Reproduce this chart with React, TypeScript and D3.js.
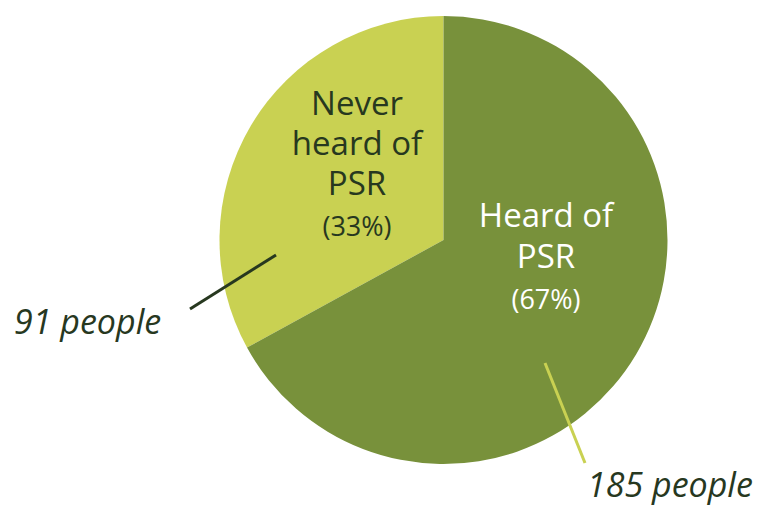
import React from "react";
import * as d3 from "d3";

const categories = ["Never heard of PSR", "Heard of PSR"];
const counts = [91, 185];
const percents = ["(33%)", "(67%)"];
const labelLines = [["Never", "heard of", "PSR"], ["Heard of", "PSR"]];
const peopleLabels = ["91 people", "185 people"];
const colors = ["#c9d152", "#78913b"];

export default function App() {
  const W = 767, H = 506;
  const cx = 443.5, cy = 240, r = 224;
  const pie = d3.pie<number>().sort(null).startAngle(0).endAngle(-2 * Math.PI);
  const arcs = pie(counts);
  const arc = d3.arc<d3.PieArcDatum<number>>().innerRadius(0).outerRadius(r);
  const dark = "#27381f";
  const font = "'Open Sans', Lato, sans-serif";
  return (
    <svg width={W} height={H} style={{ position: "absolute", left: 0, top: 0 }}>
      <g transform={`translate(${cx},${cy})`}>
        {arcs.map((a, i) => (
          <path key={categories[i]} d={arc(a) || ""} fill={colors[i]} />
        ))}
      </g>
      {labelLines[0].map((l, j) => (
        <text key={"a" + j} x={357} y={115 + j * 40} textAnchor="middle" fill={dark} fontFamily={font} fontSize={33} fontWeight={500}>{l}</text>
      ))}
      <text x={357} y={236} textAnchor="middle" fill={dark} fontFamily={font} fontSize={27}>{percents[0]}</text>
      {labelLines[1].map((l, j) => (
        <text key={"b" + j} x={546} y={227 + j * 41} textAnchor="middle" fill="#ffffff" fontFamily={font} fontSize={33}>{l}</text>
      ))}
      <text x={546} y={309} textAnchor="middle" fill="#ffffff" fontFamily={font} fontSize={27}>{percents[1]}</text>
      <line x1={190} y1={309} x2={276} y2={255} stroke={dark} strokeWidth={3} />
      <text x={14} y={334} fill={dark} fontFamily={font} fontSize={34} fontStyle="italic">{peopleLabels[0]}</text>
      <line x1={545} y1={363} x2={585} y2={463} stroke={colors[0]} strokeWidth={3} />
      <text x={587} y={497} fill={dark} fontFamily={font} fontSize={34} fontStyle="italic">{peopleLabels[1]}</text>
    </svg>
  );
}
